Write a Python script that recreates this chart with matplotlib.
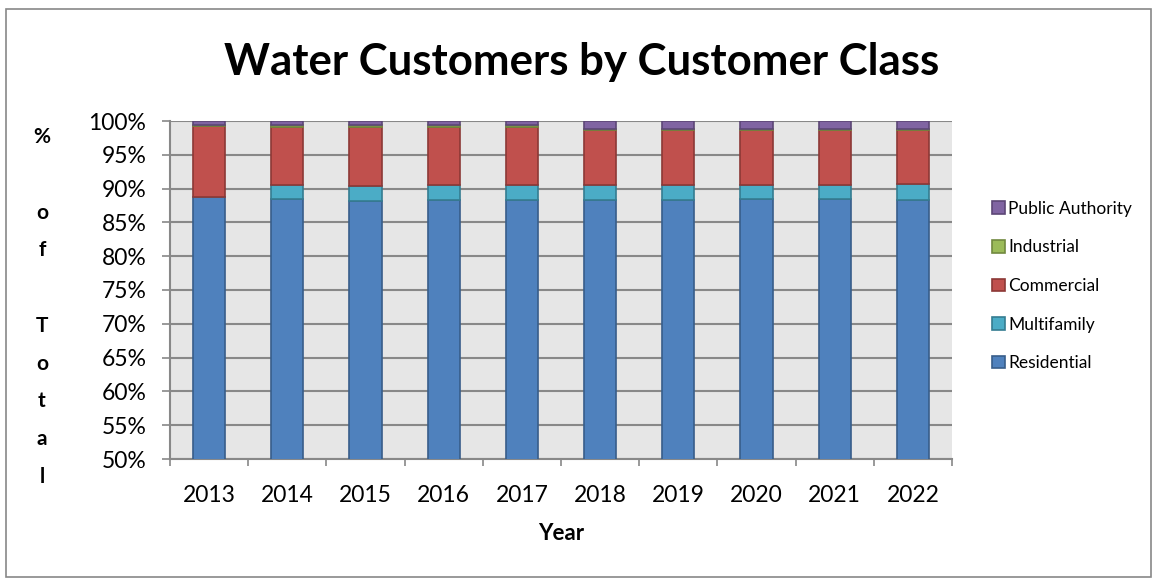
import matplotlib
matplotlib.use("Agg")
import matplotlib.pyplot as plt
import numpy as np
from matplotlib.patches import Rectangle, Patch

plt.rcParams['font.family'] = ['Lato', 'DejaVu Sans']

years = ["2013", "2014", "2015", "2016", "2017", "2018", "2019", "2020", "2021", "2022"]
residential = [88.7, 88.4, 88.2, 88.3, 88.3, 88.3, 88.3, 88.4, 88.4, 88.3]
multifamily = [0.0, 2.2, 2.2, 2.2, 2.2, 2.2, 2.2, 2.2, 2.2, 2.4]
commercial = [10.5, 8.5, 8.7, 8.6, 8.6, 8.1, 8.1, 8.0, 8.0, 7.9]
industrial = [0.25, 0.28, 0.27, 0.28, 0.28, 0.25, 0.25, 0.25, 0.25, 0.25]
public_authority = [0.55, 0.62, 0.63, 0.62, 0.62, 1.15, 1.15, 1.15, 1.15, 1.15]

series = [
    ("Residential", residential, "#4F81BD", "#385D8A"),
    ("Multifamily", multifamily, "#4BACC6", "#357D91"),
    ("Commercial", commercial, "#C0504D", "#8C3836"),
    ("Industrial", industrial, "#9BBB59", "#71893F"),
    ("Public Authority", public_authority, "#8064A2", "#5C4776"),
]

W, H = 1153, 579
fig = plt.figure(figsize=(W / 100, H / 100), dpi=100)
fig.patches.append(Rectangle((6 / W, 1 - 577 / H), 1145 / W, 568 / H, transform=fig.transFigure,
                             fill=False, edgecolor="#888888", linewidth=1.2))

left, right, top, bottom = 170, 952, 121, 459
ax = fig.add_axes([left / W, 1 - bottom / H, (right - left) / W, (bottom - top) / H])
ax.set_facecolor("#E6E6E6")

x = np.arange(len(years))
base = np.zeros(len(years))
for name, vals, color, edge in series:
    v = np.array(vals)
    ax.bar(x, v, bottom=base, width=0.41, color=color, edgecolor=edge, linewidth=1.2,
           label=name, zorder=3)
    base += v

ax.set_xlim(-0.5, len(years) - 0.5)
ax.set_ylim(50, 100)
ax.set_yticks(np.arange(50, 101, 5))
ax.set_yticklabels([f"{t}%" for t in range(50, 101, 5)], fontsize=16.5)
ax.yaxis.grid(True, color="#888888", linewidth=1.5, zorder=1)
ax.set_axisbelow(True)
ax.tick_params(axis="y", length=6, width=1.2, color="#888888", pad=11)

ax.set_xticks(x)
ax.set_xticklabels(years, fontsize=16.5)
ax.tick_params(axis="x", length=0, pad=19)
ax.set_xticks(np.arange(-0.5, len(years), 1.0), minor=True)
ax.tick_params(axis="x", which="minor", length=5, width=1.2, color="#888888")

for s in ["top", "right"]:
    ax.spines[s].set_visible(False)
for s in ["left", "bottom"]:
    ax.spines[s].set_color("#888888")
    ax.spines[s].set_linewidth(1.5)

fig.text(582 / W, 1 - 62 / H, "Water Customers by Customer Class", ha="center", va="center",
         fontsize=31.5, fontweight="bold")
fig.text(561 / W, 1 - 533 / H, "Year", ha="center", va="center", fontsize=16, fontweight="bold")
fig.text(42 / W, 1 - 307 / H, "%\n\no\nf\n\nT\no\nt\na\nl", ha="center", va="center",
         fontsize=15, fontweight="bold", linespacing=2.11)

handles = [Patch(facecolor=c, edgecolor=e, linewidth=1.2, label=n) for n, _, c, e in series][::-1]
fig.legend(handles=handles, loc="center left", bbox_to_anchor=(985 / W, 1 - 286 / H),
           frameon=False, fontsize=12.5, handlelength=0.75, handleheight=0.75,
           handletextpad=0.2, labelspacing=1.3, borderaxespad=0)

fig.savefig("out.png", dpi=100)
